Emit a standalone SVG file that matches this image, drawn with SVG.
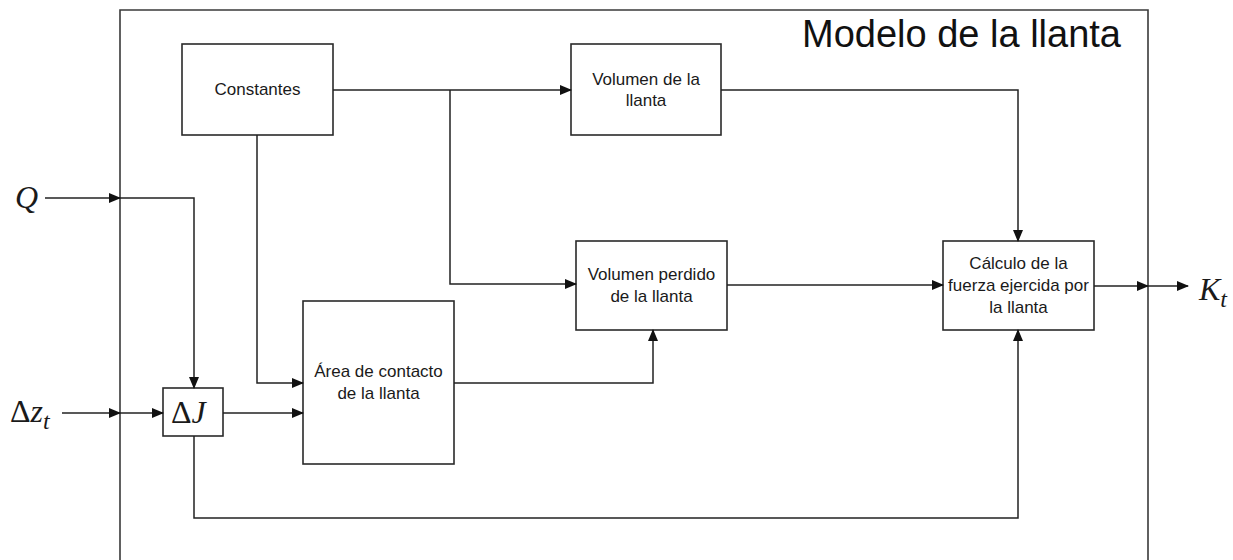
<svg xmlns="http://www.w3.org/2000/svg" width="1233" height="560" viewBox="0 0 1233 560">
  <style>
    .box { fill: #ffffff; stroke: #2a2a2a; stroke-width: 1.6; }
    .frame { fill: none; stroke: #3a3a3a; stroke-width: 1.6; }
    .wire { fill: none; stroke: #222222; stroke-width: 1.5; }
    .lbl { font-family: "Liberation Sans", Arial, sans-serif; font-size: 17px; fill: #1a1a1a; text-anchor: middle; }
    .title { font-family: "Liberation Sans", Arial, sans-serif; font-size: 38px; fill: #111111; }
    .math { font-family: "Liberation Serif", "Times New Roman", serif; font-size: 32px; fill: #1a1a1a; }
    .it { font-style: italic; }
  </style>
  <defs>
    <marker id="arrow" markerUnits="userSpaceOnUse" markerWidth="12" markerHeight="10" refX="11" refY="5" orient="auto">
      <path d="M0,0 L12,5 L0,10 Z" fill="#111111"/>
    </marker>
  </defs>

  <rect width="1233" height="560" fill="#ffffff"/>

  <!-- outer subsystem frame (open at the bottom edge of the sheet) -->
  <g id="frame">
    <path class="frame" d="M120,575 V10 H1148 V575"/>
    <text class="title" x="802" y="47">Modelo de la llanta</text>
  </g>

  <g id="constantes">
    <rect class="box" x="182" y="44" width="151" height="91"/>
    <text class="lbl" x="257.5" y="95">Constantes</text>
  </g>

  <g id="volumen">
    <rect class="box" x="571" y="44" width="150" height="91"/>
    <text class="lbl" x="646" y="85">Volumen de la</text>
    <text class="lbl" x="646" y="106">llanta</text>
  </g>

  <g id="volumen-perdido">
    <rect class="box" x="576" y="241" width="151" height="89"/>
    <text class="lbl" x="651.5" y="280">Volumen perdido</text>
    <text class="lbl" x="651.5" y="302">de la llanta</text>
  </g>

  <g id="calculo">
    <rect class="box" x="943" y="241" width="151" height="89"/>
    <text class="lbl" x="1018.5" y="269">Cálculo de la</text>
    <text class="lbl" x="1018.5" y="291">fuerza ejercida por</text>
    <text class="lbl" x="1018.5" y="313">la llanta</text>
  </g>

  <g id="area">
    <rect class="box" x="303" y="301" width="151" height="163"/>
    <text class="lbl" x="378.5" y="377">Área de contacto</text>
    <text class="lbl" x="378.5" y="399">de la llanta</text>
  </g>

  <g id="delta-j">
    <rect class="box" x="163" y="388" width="60" height="48"/>
    <text class="math" x="171" y="423">Δ<tspan class="it">J</tspan></text>
  </g>

  <!-- external signals -->
  <g id="input-q">
    <text class="math it" x="15" y="208">Q</text>
  </g>
  <g id="input-dz">
    <text class="math" x="10" y="422">Δ<tspan class="it">z</tspan><tspan class="it" font-size="24" dy="7">t</tspan></text>
  </g>
  <g id="output-kt">
    <text class="math it" x="1199" y="300">K<tspan font-size="24" dy="7">t</tspan></text>
  </g>

  <g id="connectors">
    <path class="wire" d="M45,198 H120" marker-end="url(#arrow)"/>
    <path class="wire" d="M120,198 H194 V388" marker-end="url(#arrow)"/>
    <path class="wire" d="M62,413 H120" marker-end="url(#arrow)"/>
    <path class="wire" d="M120,413 H163" marker-end="url(#arrow)"/>
    <path class="wire" d="M223,413 H303" marker-end="url(#arrow)"/>
    <path class="wire" d="M194,436 V518 H1018 V330" marker-end="url(#arrow)"/>
    <path class="wire" d="M333,90 H571" marker-end="url(#arrow)"/>
    <path class="wire" d="M450,90 V284 H576" marker-end="url(#arrow)"/>
    <path class="wire" d="M257,135 V383 H303" marker-end="url(#arrow)"/>
    <path class="wire" d="M454,383 H653 V330" marker-end="url(#arrow)"/>
    <path class="wire" d="M721,90 H1018 V241" marker-end="url(#arrow)"/>
    <path class="wire" d="M727,285 H943" marker-end="url(#arrow)"/>
    <path class="wire" d="M1094,286 H1148" marker-end="url(#arrow)"/>
    <path class="wire" d="M1148,286 H1188" marker-end="url(#arrow)"/>
  </g>
</svg>
